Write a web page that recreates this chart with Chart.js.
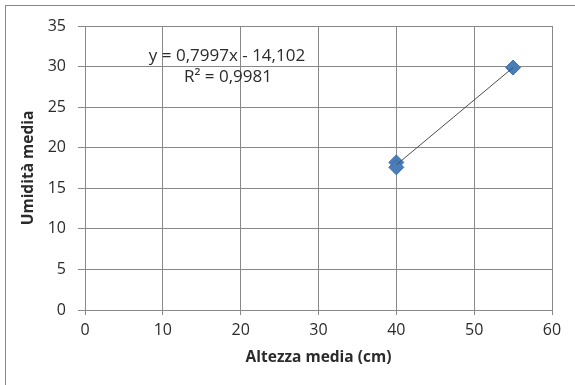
<!DOCTYPE html>
<html>
<head>
<meta charset="utf-8">
<script src="https://cdn.jsdelivr.net/npm/chart.js@4/dist/chart.umd.min.js"></script>
<style>
  html, body { margin: 0; padding: 0; background: #fff; }
  #wrap { width: 575px; height: 385px; position: relative; }
</style>
</head>
<body>
<div id="wrap"><canvas id="c" width="575" height="385"></canvas></div>
<script>
// Measured points: mean height (cm) vs mean humidity
const altezza = [40, 40, 55];
const umidita = [18.19, 17.58, 29.88];

// Linear trendline coefficients (shown in the annotation)
const slope = 0.7997;
const intercept = -14.102;
const r2 = 0.9981;
const trendX = [40, 55];

const xTicks = [0, 10, 20, 30, 40, 50, 60];
const yTicks = [0, 5, 10, 15, 20, 25, 30, 35];

const points = altezza.map((x, i) => ({ x, y: umidita[i] }));
const trend = trendX.map(x => ({ x, y: slope * x + intercept }));

const gridColor = '#888888';
const textColor = '#2b2b2b';
const fontFamily = '"Open Sans", Lato, sans-serif';

const framePlugin = {
  id: 'frame',
  beforeDraw(chart) {
    const ctx = chart.ctx;
    ctx.save();
    ctx.fillStyle = '#ffffff';
    ctx.fillRect(0, 0, chart.width, chart.height);
    ctx.strokeStyle = '#888888';
    ctx.lineWidth = 1;
    ctx.strokeRect(5.5, 5.5, chart.width + 20, chart.height + 20);
    ctx.restore();
  }
};

const equationPlugin = {
  id: 'equation',
  afterDatasetsDraw(chart) {
    const ctx = chart.ctx;
    const a = chart.chartArea;
    ctx.save();
    ctx.fillStyle = textColor;
    ctx.font = '17px ' + fontFamily;
    ctx.textAlign = 'center';
    ctx.textBaseline = 'middle';
    const sign = intercept < 0 ? ' - ' : ' + ';
    const eq = 'y = ' + slope.toLocaleString('it-IT', { minimumFractionDigits: 4 }) + 'x' + sign +
               Math.abs(intercept).toLocaleString('it-IT', { minimumFractionDigits: 3 });
    ctx.fillText(eq, a.left + 142, a.top + 30);
    ctx.fillText('R² = ' + r2.toLocaleString('it-IT', { minimumFractionDigits: 4 }), a.left + 143, a.top + 51);
    ctx.restore();
  }
};

new Chart(document.getElementById('c'), {
  type: 'scatter',
  data: {
    datasets: [
      {
        type: 'line',
        data: trend,
        borderColor: '#4d4d4d',
        borderWidth: 1,
        pointRadius: 0,
        fill: false
      },
      {
        data: points,
        pointStyle: 'rectRot',
        pointRadius: 7.5,
        pointHoverRadius: 7.5,
        backgroundColor: '#4a7ebb',
        borderColor: '#3f6fa8',
        borderWidth: 1
      }
    ]
  },
  plugins: [framePlugin, equationPlugin],
  options: {
    responsive: false,
    animation: false,
    events: [],
    layout: { padding: { left: 0, top: 26, right: 23, bottom: 0 } },
    plugins: { legend: { display: false }, tooltip: { enabled: false } },
    scales: {
      x: {
        type: 'linear',
        min: 0, max: 60,
        afterBuildTicks: s => { s.ticks = xTicks.map(v => ({ value: v })); },
        afterFit: s => { s.height = 75; },
        grid: { color: gridColor, tickLength: 5, drawTicks: true },
        border: { color: gridColor },
        ticks: { color: textColor, font: { family: fontFamily, size: 16 }, padding: 6 },
        title: {
          display: true, text: 'Altezza media (cm)', color: textColor,
          font: { family: fontFamily, size: 15.5, weight: 'bold' },
          padding: { top: 0, bottom: 17.7 }
        }
      },
      y: {
        type: 'linear',
        min: 0, max: 35,
        afterBuildTicks: s => { s.ticks = yTicks.map(v => ({ value: v })); },
        afterFit: s => { s.width = 85; },
        grid: { color: gridColor, tickLength: 7, drawTicks: true },
        border: { color: gridColor },
        ticks: { color: textColor, font: { family: fontFamily, size: 16 }, padding: 12 },
        title: {
          display: true, text: 'Umidità media', color: textColor,
          font: { family: fontFamily, size: 15.5, weight: 'bold' },
          padding: { top: 19.7, bottom: 0 }
        }
      }
    }
  }
});
</script>
</body>
</html>
